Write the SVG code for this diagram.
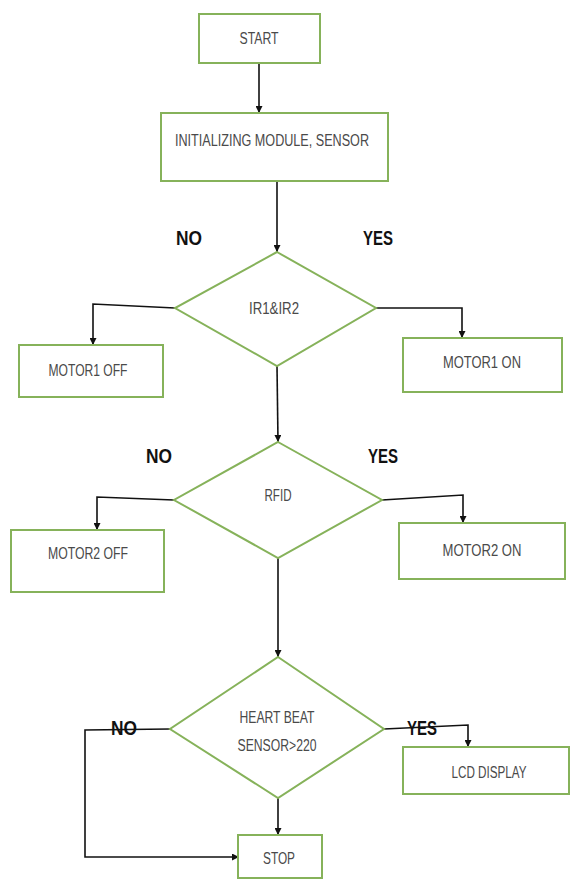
<svg xmlns="http://www.w3.org/2000/svg" width="573" height="879" viewBox="0 0 573 879">
<defs>
<marker id="arr" viewBox="0 0 10 10" refX="10" refY="5" markerWidth="7" markerHeight="7" markerUnits="userSpaceOnUse" orient="auto">
<path d="M0,0 L10,5 L0,10 Z" fill="#111"/>
</marker>
<style>
.box{fill:#fff;stroke:#86b25a;stroke-width:2}
.t{font-family:"Liberation Sans",Arial,sans-serif;font-size:16px;fill:#4a4a4a;text-anchor:middle}
.lbl{font-family:"Liberation Sans",Arial,sans-serif;font-size:20px;font-weight:bold;fill:#111;text-anchor:middle}
.c{fill:none;stroke:#111;stroke-width:1.6}
</style>
</defs>
<rect width="573" height="879" fill="#fff"/>
<g id="connectors">
<path class="c" d="M259,63 L259,113" marker-end="url(#arr)"/>
<path class="c" d="M277,181 L277,252" marker-end="url(#arr)"/>
<path class="c" d="M175,308 L93,304 L93,345" marker-end="url(#arr)"/>
<path class="c" d="M376,308 L462,308 L462,338" marker-end="url(#arr)"/>
<path class="c" d="M277,366 L278,442" marker-end="url(#arr)"/>
<path class="c" d="M174,500 L97,497 L97,530" marker-end="url(#arr)"/>
<path class="c" d="M382,500 L463,495 L463,523" marker-end="url(#arr)"/>
<path class="c" d="M278,558 L278,657" marker-end="url(#arr)"/>
<path class="c" d="M170,729 L85,730 L85,857 L239,857" marker-end="url(#arr)"/>
<path class="c" d="M384,729 L468,725 L468,747" marker-end="url(#arr)"/>
<path class="c" d="M278,798 L278,835" marker-end="url(#arr)"/>
</g>
<g id="start"><rect class="box" x="199" y="14" width="121" height="49"/><text class="t" x="259" y="44" textLength="39" lengthAdjust="spacingAndGlyphs">START</text></g>
<g id="init"><rect class="box" x="161" y="113" width="227" height="68"/><text class="t" x="272" y="146" textLength="194" lengthAdjust="spacingAndGlyphs">INITIALIZING MODULE, SENSOR</text></g>
<g id="ir"><polygon class="box" points="277,252 376,308 277,366 175,308"/><text class="t" x="274" y="314" textLength="50" lengthAdjust="spacingAndGlyphs">IR1&amp;IR2</text></g>
<g id="m1off"><rect class="box" x="19" y="345" width="144" height="52"/><text class="t" x="88" y="376" textLength="79" lengthAdjust="spacingAndGlyphs">MOTOR1 OFF</text></g>
<g id="m1on"><rect class="box" x="403" y="338" width="159" height="54"/><text class="t" x="482" y="368" textLength="78" lengthAdjust="spacingAndGlyphs">MOTOR1 ON</text></g>
<g id="rfid"><polygon class="box" points="278,442 382,500 278,558 174,500"/><text class="t" x="278" y="501" textLength="27" lengthAdjust="spacingAndGlyphs">RFID</text></g>
<g id="m2off"><rect class="box" x="11" y="530" width="153" height="62"/><text class="t" x="88" y="559" textLength="80" lengthAdjust="spacingAndGlyphs">MOTOR2 OFF</text></g>
<g id="m2on"><rect class="box" x="399" y="523" width="166" height="56"/><text class="t" x="482" y="556" textLength="79" lengthAdjust="spacingAndGlyphs">MOTOR2 ON</text></g>
<g id="heart"><polygon class="box" points="278,657 384,729 278,798 170,729"/><text class="t" x="277" y="723" textLength="75" lengthAdjust="spacingAndGlyphs">HEART BEAT</text><text class="t" x="277" y="751" textLength="79" lengthAdjust="spacingAndGlyphs">SENSOR&gt;220</text></g>
<g id="lcd"><rect class="box" x="403" y="747" width="166" height="47"/><text class="t" x="489" y="778" textLength="75" lengthAdjust="spacingAndGlyphs">LCD DISPLAY</text></g>
<g id="stop"><rect class="box" x="238" y="835" width="84" height="43"/><text class="t" x="279" y="864" textLength="32" lengthAdjust="spacingAndGlyphs">STOP</text></g>
<g id="labels">
<text class="lbl" x="189" y="245" textLength="26" lengthAdjust="spacingAndGlyphs">NO</text>
<text class="lbl" x="378" y="245" textLength="30" lengthAdjust="spacingAndGlyphs">YES</text>
<text class="lbl" x="159" y="463" textLength="26" lengthAdjust="spacingAndGlyphs">NO</text>
<text class="lbl" x="383" y="463" textLength="30" lengthAdjust="spacingAndGlyphs">YES</text>
<text class="lbl" x="124" y="735" textLength="26" lengthAdjust="spacingAndGlyphs">NO</text>
<text class="lbl" x="422" y="735" textLength="30" lengthAdjust="spacingAndGlyphs">YES</text>
</g>
</svg>
